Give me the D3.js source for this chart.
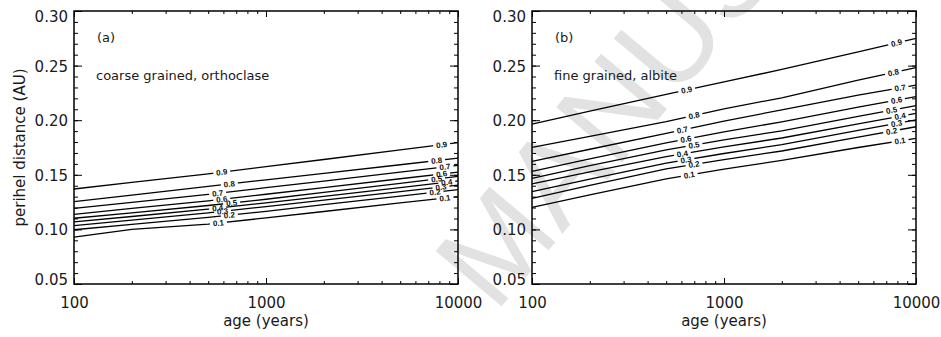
<!DOCTYPE html>
<html>
<head>
<meta charset="utf-8">
<script src="https://cdn.jsdelivr.net/npm/d3@7"></script>
<style>
  body { margin: 0; background: #fff; }
  svg text { font-family: "DejaVu Sans", sans-serif; }
</style>
</head>
<body>
<svg id="chart" width="941" height="337"></svg>
<script>
// ages sampled along every contour (years)
const ages = [100, 200, 500, 1000, 2000, 5000, 10000];
const levels = ["0.1", "0.2", "0.3", "0.4", "0.5", "0.6", "0.7", "0.8", "0.9"];

// perihel distance (AU) of each contour level, panel (a)
const coarseOrthoclase = [
  [0.0930, 0.1001, 0.1049, 0.1105, 0.1164, 0.1242, 0.1300],
  [0.0997, 0.1046, 0.1110, 0.1166, 0.1226, 0.1305, 0.1365],
  [0.1034, 0.1085, 0.1152, 0.1209, 0.1268, 0.1346, 0.1405],
  [0.1068, 0.1118, 0.1185, 0.1243, 0.1303, 0.1383, 0.1444],
  [0.1102, 0.1152, 0.1219, 0.1276, 0.1339, 0.1422, 0.1485],
  [0.1138, 0.1192, 0.1262, 0.1322, 0.1383, 0.1464, 0.1525],
  [0.1193, 0.1248, 0.1321, 0.1382, 0.1443, 0.1525, 0.1587],
  [0.1254, 0.1314, 0.1394, 0.1454, 0.1513, 0.1592, 0.1652],
  [0.1370, 0.1430, 0.1509, 0.1574, 0.1640, 0.1728, 0.1794]
];
// panel (b)
const fineAlbite = [
  [0.1202, 0.1317, 0.1463, 0.1551, 0.1632, 0.1750, 0.1834],
  [0.1285, 0.1404, 0.1554, 0.1639, 0.1718, 0.1845, 0.1940],
  [0.1345, 0.1461, 0.1607, 0.1695, 0.1776, 0.1906, 0.2002],
  [0.1416, 0.1527, 0.1667, 0.1756, 0.1837, 0.1967, 0.2063],
  [0.1468, 0.1583, 0.1729, 0.1819, 0.1903, 0.2036, 0.2133],
  [0.1532, 0.1646, 0.1792, 0.1893, 0.1985, 0.2120, 0.2215],
  [0.1623, 0.1734, 0.1879, 0.1992, 0.2095, 0.2230, 0.2322],
  [0.1752, 0.1852, 0.1987, 0.2104, 0.2205, 0.2368, 0.2481],
  [0.1965, 0.2083, 0.2237, 0.2350, 0.2465, 0.2625, 0.2750]
];

// where the contour labels sit (age), one per level
const coarseMidLabelAge = [565, 644, 594, 560, 662, 588, 560, 644, 588];
const coarseEndLabelAge = [8550, 7590, 8150, 8740, 7740, 8220, 8550, 7740, 8220];
const fineMidLabelAge = [659, 698, 634, 607, 698, 634, 607, 698, 639];
const fineEndLabelAge = [8260, 7460, 7920, 8260, 7460, 7920, 8260, 7620, 7920];

const yTicks = [0.05, 0.10, 0.15, 0.20, 0.25, 0.30];
const yTickLabels = ["0.05", "0.10", "0.15", "0.20", "0.25", "0.30"];
const yMinorTicks = d3.range(5, 31).map(v => v / 100);
const xTicks = [100, 1000, 10000];
const xTickLabels = ["100", "1000", "10000"];
const xMinorTicks = [200, 300, 400, 500, 600, 700, 800, 900, 2000, 3000, 4000, 5000, 6000, 7000, 8000, 9000];

const svg = d3.select("#chart");
const defs = svg.append("defs");
const plotTop = 11, plotBottom = 284;

// faint watermark behind everything
svg.append("text")
  .attr("transform", "translate(495,314) rotate(-50)")
  .attr("fill", "#e2e2e2")
  .style("font-family", "'Liberation Sans', sans-serif")
  .style("font-size", "125px")
  .text("MANUS");

const panels = [
  { x0: 74, x1: 458, tag: "(a)", note: "coarse grained, orthoclase", lines: coarseOrthoclase, mid: coarseMidLabelAge, end: coarseEndLabelAge, ytitle: true },
  { x0: 532, x1: 916, tag: "(b)", note: "fine grained, albite", lines: fineAlbite, mid: fineMidLabelAge, end: fineEndLabelAge, ytitle: false }
];

panels.forEach((p, pi) => {
  const x = d3.scaleLog().domain([100, 10000]).range([p.x0, p.x1]);
  const y = d3.scaleLinear().domain([0.05, 0.30]).range([plotBottom, plotTop]);
  const g = svg.append("g");
  const line = d3.line().x(d => x(d[0])).y(d => y(d[1]));

  // contours
  p.lines.forEach((vals, li) => {
    const pts = ages.map((a, i) => [a, vals[i]]);
    const px = pts.map(d => [x(d[0]), y(d[1])]);
    const labs = [p.mid[li], p.end[li]].map(a => {
      const xx = x(a);
      let k = 0;
      while (k < px.length - 2 && px[k + 1][0] < xx) k++;
      const t = (xx - px[k][0]) / (px[k + 1][0] - px[k][0]);
      const yy = px[k][1] + t * (px[k + 1][1] - px[k][1]);
      const ang = Math.atan2(px[k + 1][1] - px[k][1], px[k + 1][0] - px[k][0]) * 180 / Math.PI;
      return { xx, yy, ang, text: levels[li] };
    });

    const id = `gap-${pi}-${li}`;
    const m = defs.append("mask").attr("id", id)
      .attr("maskUnits", "userSpaceOnUse")
      .attr("x", 0).attr("y", 0).attr("width", 941).attr("height", 337);
    m.append("rect").attr("width", 941).attr("height", 337).attr("fill", "white");
    m.selectAll("rect.gap").data(labs).join("rect").attr("class", "gap")
      .attr("x", -8.5).attr("y", -4).attr("width", 17).attr("height", 8)
      .attr("fill", "black")
      .attr("transform", d => `translate(${d.xx},${d.yy}) rotate(${d.ang})`);

    g.append("path")
      .attr("d", line(pts))
      .attr("fill", "none")
      .attr("stroke", "#000")
      .attr("stroke-width", 1.3)
      .attr("mask", `url(#${id})`);

    g.selectAll(null).data(labs).join("text")
      .attr("transform", d => `translate(${d.xx},${d.yy}) rotate(${d.ang})`)
      .attr("text-anchor", "middle")
      .attr("dy", "0.35em")
      .style("font-family", "'Liberation Sans', sans-serif")
      .style("font-size", "8px")
      .style("font-weight", "bold")
      .attr("fill", "#111")
      .text(d => d.text);
  });

  // axes, ticks pointing inward
  const styleAxis = a => {
    a.select(".domain").remove();
    a.selectAll("line").attr("stroke", "#000").attr("stroke-width", 1);
    a.attr("font-family", null).attr("font-size", null);
  };
  g.append("g").attr("transform", `translate(${p.x0},0)`)
    .call(d3.axisLeft(y).tickValues(yMinorTicks).tickSize(-4).tickFormat(""))
    .call(styleAxis);
  const yl = g.append("g").attr("transform", `translate(${p.x0},0)`)
    .call(d3.axisLeft(y).tickValues(yTicks).tickSize(-8).tickPadding(6).tickFormat((d, i) => yTickLabels[i]))
    .call(styleAxis);
  yl.selectAll("text")
    .style("font-size", "15px")
    .attr("fill", "#1a1a1a")
    .attr("dy", (d, i) => i === 0 ? "0em" : (i === yTicks.length - 1 ? "0.73em" : "0.36em"));

  g.append("g").attr("transform", `translate(${p.x1},0)`)
    .call(d3.axisRight(y).tickValues(yMinorTicks).tickSize(-4).tickFormat(""))
    .call(styleAxis);
  g.append("g").attr("transform", `translate(${p.x1},0)`)
    .call(d3.axisRight(y).tickValues(yTicks).tickSize(-8).tickFormat(""))
    .call(styleAxis);

  g.append("g").attr("transform", `translate(0,${plotBottom})`)
    .call(d3.axisBottom(x).tickValues(xMinorTicks).tickSize(-3).tickFormat(""))
    .call(styleAxis);
  const xl = g.append("g").attr("transform", `translate(0,${plotBottom})`)
    .call(d3.axisBottom(x).tickValues(xTicks).tickSize(-6).tickFormat((d, i) => xTickLabels[i]))
    .call(styleAxis);
  xl.selectAll("text")
    .style("font-size", "15px")
    .attr("fill", "#1a1a1a")
    .attr("y", 23.5)
    .attr("dy", 0);

  g.append("g").attr("transform", `translate(0,${plotTop})`)
    .call(d3.axisTop(x).tickValues(xMinorTicks).tickSize(-3).tickFormat(""))
    .call(styleAxis);
  g.append("g").attr("transform", `translate(0,${plotTop})`)
    .call(d3.axisTop(x).tickValues(xTicks).tickSize(-6).tickFormat(""))
    .call(styleAxis);

  // frame
  g.append("rect")
    .attr("x", p.x0).attr("y", plotTop)
    .attr("width", p.x1 - p.x0).attr("height", plotBottom - plotTop)
    .attr("fill", "none").attr("stroke", "#000").attr("stroke-width", 1.5);

  // titles and notes
  g.append("text")
    .attr("x", (p.x0 + p.x1) / 2).attr("y", 326)
    .attr("text-anchor", "middle")
    .attr("fill", "#1a1a1a")
    .style("font-size", "15px")
    .text("age (years)");
  if (p.ytitle) {
    g.append("text")
      .attr("transform", `translate(24.5,${(plotTop + plotBottom) / 2}) rotate(-90)`)
      .attr("text-anchor", "middle")
      .attr("fill", "#1a1a1a")
      .style("font-size", "15px")
      .text("perihel distance (AU)");
  }
  g.append("text")
    .attr("x", p.x0 + 23).attr("y", 42)
    .attr("fill", "#1a1a1a")
    .style("font-size", "13px")
    .text(p.tag);
  g.append("text")
    .attr("x", p.x0 + 22).attr("y", 80)
    .attr("fill", "#1a1a1a")
    .style("font-size", "13px")
    .text(p.note);
});
</script>
</body>
</html>
